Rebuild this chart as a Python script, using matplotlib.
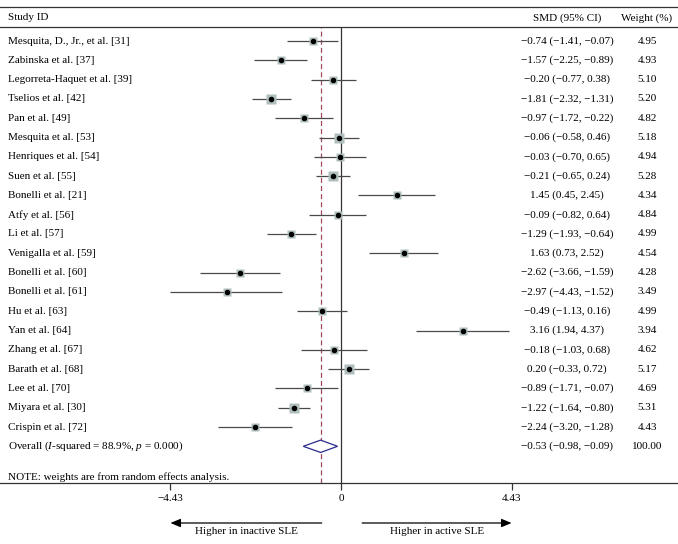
import matplotlib
matplotlib.use("Agg")
import matplotlib.pyplot as plt
import numpy as np
from matplotlib.lines import Line2D

plt.rcParams['font.family'] = ['Liberation Serif', 'DejaVu Serif']
plt.rcParams['mathtext.fontset'] = 'custom'
plt.rcParams['mathtext.rm'] = 'Liberation Serif'
plt.rcParams['mathtext.it'] = 'Liberation Serif:italic'

studies = ["Mesquita, D., Jr., et al. [31]", "Zabinska et al. [37]", "Legorreta-Haquet et al. [39]",
           "Tselios et al. [42]", "Pan et al. [49]", "Mesquita et al. [53]", "Henriques et al. [54]",
           "Suen et al. [55]", "Bonelli et al. [21]", "Atfy et al. [56]", "Li et al. [57]",
           "Venigalla et al. [59]", "Bonelli et al. [60]", "Bonelli et al. [61]", "Hu et al. [63]",
           "Yan et al. [64]", "Zhang et al. [67]", "Barath et al. [68]", "Lee et al. [70]",
           "Miyara et al. [30]", "Crispin et al. [72]"]
smd = [-0.74, -1.57, -0.20, -1.81, -0.97, -0.06, -0.03, -0.21, 1.45, -0.09, -1.29, 1.63,
       -2.62, -2.97, -0.49, 3.16, -0.18, 0.20, -0.89, -1.22, -2.24]
lo = [-1.41, -2.25, -0.77, -2.32, -1.72, -0.58, -0.70, -0.65, 0.45, -0.82, -1.93, 0.73,
      -3.66, -4.43, -1.13, 1.94, -1.03, -0.33, -1.71, -1.64, -3.20]
hi = [-0.07, -0.89, 0.38, -1.31, -0.22, 0.46, 0.65, 0.24, 2.45, 0.64, -0.64, 2.52,
      -1.59, -1.52, 0.16, 4.37, 0.68, 0.72, -0.07, -0.80, -1.28]
weights = [4.95, 4.93, 5.10, 5.20, 4.82, 5.18, 4.94, 5.28, 4.34, 4.84, 4.99, 4.54,
           4.28, 3.49, 4.99, 3.94, 4.62, 5.17, 4.69, 5.31, 4.43]
overall = (-0.53, -0.98, -0.09)
overall_weight = "100.00"
overall_label = "Overall ($I$-squared = 88.9%, $p$ = 0.000)"
note = "NOTE: weights are from random effects analysis."
xticks = [-4.43, 0, 4.43]
xticklabels = ["−4.43", "0", "4.43"]
arrow_left = (-0.5, -4.43)
arrow_right = (0.55, 4.43)
arrow_labels = ["Higher in inactive SLE", "Higher in active SLE"]

W, H = 678, 544
fig = plt.figure(figsize=(W / 100, H / 100), dpi=100)
ax_top_px, ax_bot_px = 27, 483
ax = fig.add_axes([0, 1 - ax_bot_px / H, 1, (ax_bot_px - ax_top_px) / H])
px_per_unit = 38.5
zero_px = 341
ax.set_xlim(-zero_px / px_per_unit, (W - zero_px) / px_per_unit)
row0_px, row_step = 41, 19.3
ax.set_ylim((ax_bot_px - row0_px) / row_step, (ax_top_px - row0_px) / row_step)

for s in ['left', 'right']:
    ax.spines[s].set_visible(False)
for s in ['top', 'bottom']:
    ax.spines[s].set_linewidth(0.9)
    ax.spines[s].set_color('#333333')
ax.set_yticks([])
ax.set_xticks(xticks)
ax.set_xticklabels(xticklabels, fontsize=8)
ax.tick_params(axis='x', direction='out', length=5, width=0.9, color='#333333', pad=3)

fs = 8
n = len(studies)
ys = np.arange(n)
ax.axvline(0, color='#333333', lw=0.9, zorder=1)
ax.axvline(overall[0], color='#a04a5e', lw=0.9, ls=(0, (4, 2.5)), zorder=1)

for i in range(n):
    ax.plot([lo[i], hi[i]], [ys[i], ys[i]], color='#4a4a4a', lw=0.9, zorder=2,
            solid_capstyle='butt')
    ms = 6.4 * np.sqrt(weights[i] / 5.0)
    ax.plot(smd[i], ys[i], marker='s', ms=ms, mfc='#b0bebe', mec='none', zorder=3)
    ax.plot(smd[i], ys[i], marker='o', ms=3.0, mfc='black', mec='black', zorder=4)


def fmt(v):
    return f"{v:.2f}".replace('-', '−')


txt_left = 8 / px_per_unit - zero_px / px_per_unit
col_smd = (567 - zero_px) / px_per_unit
col_w = (647 - zero_px) / px_per_unit
for i in range(n):
    ax.text(txt_left, ys[i], studies[i], fontsize=fs, va='center', ha='left')
    ax.text(col_smd, ys[i], f"{fmt(smd[i])} ({fmt(lo[i])}, {fmt(hi[i])})", fontsize=fs,
            va='center', ha='center')
    ax.text(col_w, ys[i], f"{weights[i]:.2f}", fontsize=fs, va='center', ha='center')

yo = n
d = 0.32
ax.fill([overall[1], overall[0], overall[2], overall[0], overall[1]],
        [yo, yo - d, yo, yo + d, yo], facecolor='white', edgecolor='#2b2b8c', lw=0.9, zorder=3)
ax.text(txt_left, yo, overall_label, fontsize=fs, va='center', ha='left')
ax.text(col_smd, yo, f"{fmt(overall[0])} ({fmt(overall[1])}, {fmt(overall[2])})", fontsize=fs,
        va='center', ha='center')
ax.text(col_w, yo, overall_weight, fontsize=fs, va='center', ha='center')

ax.text(txt_left, (477 - row0_px) / row_step, note, fontsize=fs, va='center', ha='left')

# header
hdr_y = (18 - row0_px) / row_step
ax.text(txt_left, hdr_y, "Study ID", fontsize=fs, va='center', ha='left', clip_on=False)
ax.text(col_smd, hdr_y, "SMD (95% CI)", fontsize=fs, va='center', ha='center', clip_on=False)
ax.text(col_w, hdr_y, "Weight (%)", fontsize=fs, va='center', ha='center', clip_on=False)
fig.add_artist(Line2D([0, 1], [1 - 7 / H, 1 - 7 / H], transform=fig.transFigure,
                      color='#333333', lw=0.9))

# arrows
arrow_y = H - 523
for (x0, x1) in [arrow_left, arrow_right]:
    ax.annotate("", xy=(x1, arrow_y), xytext=(x0, arrow_y),
                xycoords=('data', 'figure pixels'), textcoords=('data', 'figure pixels'),
                arrowprops=dict(arrowstyle='-|>,head_length=0.6,head_width=0.25',
                                color='black', lw=0.9, shrinkA=0, shrinkB=0))
lab_y = H - 532
for (x0, x1), lab in zip([arrow_left, arrow_right], arrow_labels):
    ax.annotate(lab, xy=((x0 + x1) / 2, lab_y), xycoords=('data', 'figure pixels'),
                fontsize=fs, ha='center', va='center')

fig.savefig("out.png", dpi=100)
